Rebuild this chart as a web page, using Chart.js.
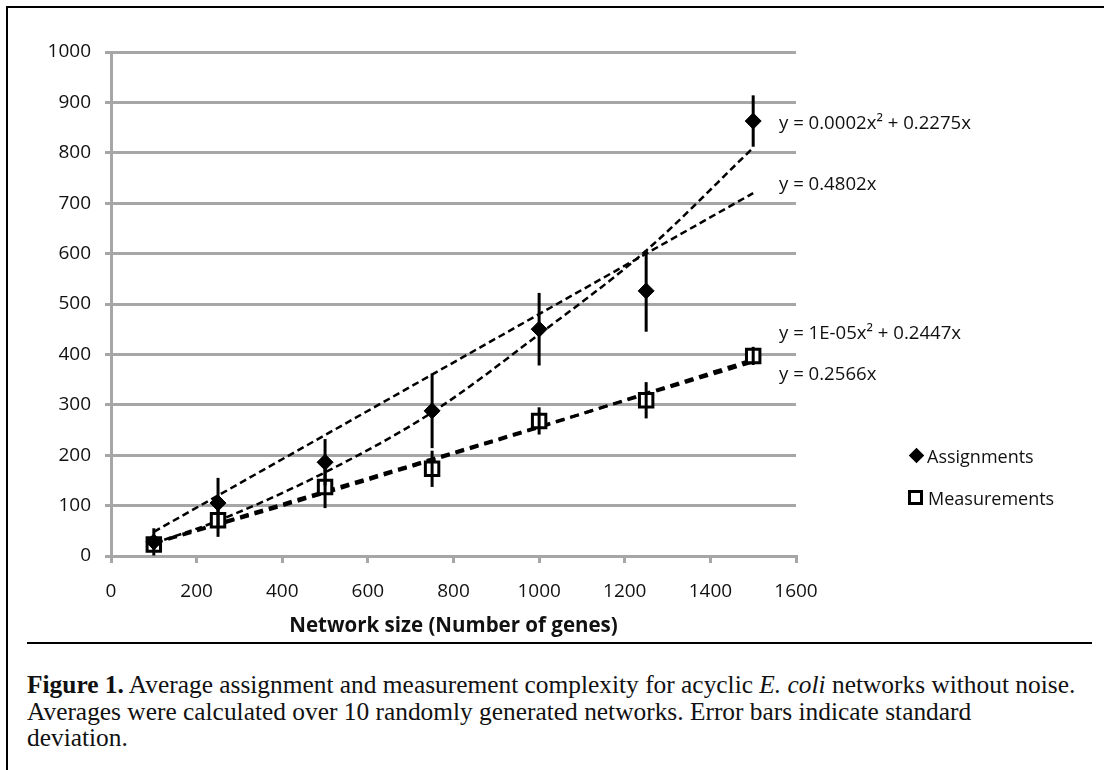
<!DOCTYPE html>
<html>
<head>
<meta charset="utf-8">
<script src="https://cdn.jsdelivr.net/npm/chart.js@4.4.1/dist/chart.umd.min.js"></script>
<style>
  body { margin: 0; background: #fff; }
  #wrap { position: relative; width: 1104px; height: 770px; overflow: hidden; }
  #chartBox { position: absolute; left: 0; top: 0; width: 1104px; height: 643px; }
  .frameL { position: absolute; left: 6px; top: 6px; width: 2px; height: 770px; background: #000; }
  .frameT { position: absolute; left: 6px; top: 6px; width: 1104px; height: 2px; background: #000; }
  .sep { position: absolute; left: 27px; top: 642px; width: 1065px; height: 2px; background: #000; }
  .eq { position: absolute; left: 779px; font-family: "Open Sans", sans-serif; font-size: 18.6px; line-height: 22px; color: #111; white-space: nowrap; }
  .leg { position: absolute; font-family: "Open Sans", sans-serif; font-size: 18px; line-height: 22px; color: #111; white-space: nowrap; }
  .dia { position: absolute; width: 11px; height: 11px; background: #000; transform: rotate(45deg); }
  .sq { position: absolute; width: 15px; height: 15px; box-sizing: border-box; border: 3px solid #000; background: #fff; }
  #caption { position: absolute; left: 27px; top: 671px; width: 1075px; font-family: "Liberation Serif", serif; font-size: 25.4px; line-height: 26.7px; color: #111; white-space: nowrap; }
</style>
</head>
<body>
<div id="wrap">
  <div id="chartBox"><canvas id="complexityChart" width="1104" height="643"></canvas></div>
  <div class="frameL"></div>
  <div class="frameT"></div>

  <div class="eq" style="top:111px">y = 0.0002x² + 0.2275x</div>
  <div class="eq" style="top:172px">y = 0.4802x</div>
  <div class="eq" style="top:321px">y = 1E-05x² + 0.2447x</div>
  <div class="eq" style="top:362px">y = 0.2566x</div>

  <div class="dia" style="left:911px; top:450px"></div>
  <div class="leg" style="left:927px; top:445px">Assignments</div>
  <div class="sq" style="left:908px; top:490px"></div>
  <div class="leg" style="left:928px; top:487px">Measurements</div>

  <div class="sep"></div>
  <div id="caption"><b>Figure 1.</b> Average assignment and measurement complexity for acyclic <i>E. coli</i> networks without noise.<br>Averages were calculated over 10 randomly generated networks. Error bars indicate standard<br>deviation.</div>
</div>

<script>
// network sizes (x) and averages
const networkSizes = [100, 250, 500, 750, 1000, 1250, 1500];
const assignments = [28, 105, 186, 288, 450, 526, 863];
const assignmentsSD = [27, 50, 46, 74, 72, 81, 51];
const measurements = [23, 71, 137, 173, 268, 309, 397];
const measurementsSD = [9, 33, 42, 36, 27, 36, 18];

// trendlines as they appear in the picture
const assignPolyTrend = [25, 70, 166, 285, 440, 606, 810];
const linEnds = [100, 1500];
const assignLinTrend = [48, 720];
const measurePolyTrend = [25, 62, 125, 190, 255, 323, 390];
const measureLinTrend = [26, 385];

const xTicks = [0, 200, 400, 600, 800, 1000, 1200, 1400, 1600];
const yTicks = [0, 100, 200, 300, 400, 500, 600, 700, 800, 900, 1000];

const pts = (xs, ys) => xs.map((x, i) => ({ x: x, y: ys[i] }));

const errorBars = {
  id: 'errorBars',
  afterDatasetsDraw(chart) {
    const ctx = chart.ctx;
    const xs = chart.scales.x, ys = chart.scales.y;
    const sets = [[assignments, assignmentsSD], [measurements, measurementsSD]];
    ctx.save();
    ctx.strokeStyle = '#000';
    ctx.lineWidth = 3;
    sets.forEach(([vals, sd]) => {
      vals.forEach((v, i) => {
        const px = xs.getPixelForValue(networkSizes[i]);
        ctx.beginPath();
        ctx.moveTo(px, ys.getPixelForValue(v - sd[i]));
        ctx.lineTo(px, ys.getPixelForValue(v + sd[i]));
        ctx.stroke();
      });
    });
    ctx.restore();
  }
};

const gridGray = '#a6a6a6';
const tickFont = { family: 'Open Sans', size: 19 };

new Chart(document.getElementById('complexityChart').getContext('2d'), {
  type: 'scatter',
  data: {
    datasets: [
      {
        label: 'Assignments',
        data: pts(networkSizes, assignments),
        pointStyle: 'rectRot',
        pointRadius: 8,
        backgroundColor: '#000',
        borderColor: '#000',
        borderWidth: 1
      },
      {
        label: 'Measurements',
        data: pts(networkSizes, measurements),
        pointStyle: 'rect',
        pointRadius: 9.5,
        backgroundColor: '#fff',
        borderColor: '#000',
        borderWidth: 3
      },
      {
        data: pts(networkSizes, assignPolyTrend),
        showLine: true, pointRadius: 0,
        borderColor: '#000', borderWidth: 2.5, borderDash: [7, 4],
        cubicInterpolationMode: 'monotone'
      },
      {
        data: pts(linEnds, assignLinTrend),
        showLine: true, pointRadius: 0,
        borderColor: '#000', borderWidth: 2.5, borderDash: [7, 4]
      },
      {
        data: pts(networkSizes, measurePolyTrend),
        showLine: true, pointRadius: 0,
        borderColor: '#000', borderWidth: 3, borderDash: [9, 6],
        cubicInterpolationMode: 'monotone'
      },
      {
        data: pts(linEnds, measureLinTrend),
        showLine: true, pointRadius: 0,
        borderColor: '#000', borderWidth: 3, borderDash: [9, 6]
      }
    ]
  },
  options: {
    responsive: false,
    animation: false,
    layout: { padding: { left: 11, top: 52, right: 308, bottom: 4 } },
    plugins: { legend: { display: false }, tooltip: { enabled: false } },
    scales: {
      x: {
        type: 'linear',
        min: 0, max: 1600,
        afterBuildTicks: s => { s.ticks = xTicks.map(v => ({ value: v })); },
        afterFit: s => { s.height = 83; },
        grid: { drawOnChartArea: false, drawTicks: true, tickLength: 7, color: gridGray, lineWidth: 3 },
        border: { color: gridGray, width: 3 },
        ticks: { color: '#111', padding: 17, font: tickFont, callback: v => String(v) },
        title: {
          display: true,
          text: 'Network size (Number of genes)',
          color: '#111',
          padding: { top: 0, bottom: 1 },
          font: { family: 'Open Sans', size: 20.5, weight: 'bold' }
        }
      },
      y: {
        min: 0, max: 1000,
        afterBuildTicks: s => { s.ticks = yTicks.map(v => ({ value: v })); },
        afterFit: s => { s.width = 100; },
        grid: { color: gridGray, lineWidth: 3, tickLength: 6 },
        border: { color: gridGray, width: 3 },
        ticks: { color: '#111', padding: 14, font: tickFont, callback: v => String(v) }
      }
    }
  },
  plugins: [errorBars]
});
</script>
</body>
</html>
